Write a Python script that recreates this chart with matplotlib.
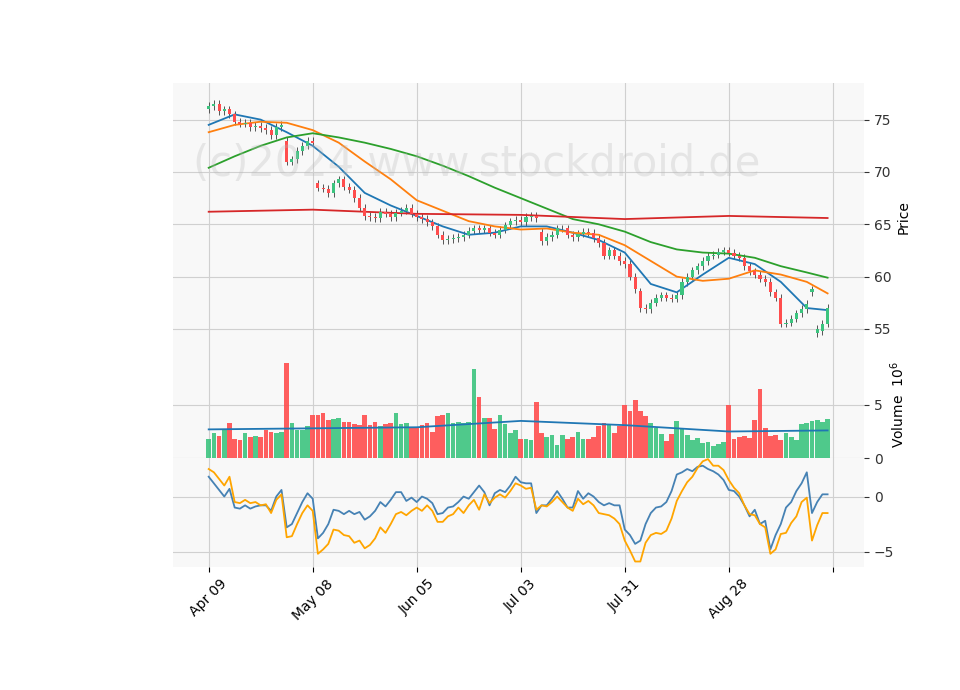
import matplotlib
matplotlib.use("Agg")
import matplotlib.pyplot as plt
import numpy as np

closes = [76.3,76.5,75.8,76.0,75.5,74.8,74.6,74.7,74.3,74.4,
          74.2,74.0,73.5,74.3,74.5,71.0,71.2,72.0,72.5,73.0,
          72.8,68.5,68.4,68.0,68.9,69.3,68.6,68.3,67.5,66.6,
          65.8,65.7,65.6,66.2,66.0,65.7,66.1,66.3,66.6,66.0,
          65.7,65.5,65.2,64.8,64.0,63.5,63.6,63.7,63.8,64.0,
          64.4,64.6,64.5,64.6,64.2,64.0,64.5,64.9,65.3,65.4,
          65.2,65.7,65.8,65.6,63.4,63.8,64.0,64.6,64.6,64.0,
          63.8,64.1,64.3,64.2,63.7,63.2,62.0,62.5,62.0,61.5,
          61.2,60.0,58.8,57.0,56.9,57.5,58.0,58.2,58.0,57.9,
          58.2,59.5,60.0,60.6,61.0,61.5,62.0,62.1,62.4,62.5,
          62.3,62.0,61.8,61.0,60.5,60.2,59.8,59.5,58.5,58.0,
          55.5,55.6,56.0,56.5,56.9,57.4,58.8,55.0,55.5,57.0]
opens = [76.0] + closes[:-1]
opens[15] = 73.0; opens[21] = 68.9; opens[64] = 64.3; opens[83] = 58.6
opens[110] = 58.0; opens[117] = 54.6; opens[118] = 54.8; opens[116] = 58.5

volume = [1.8,2.4,2.1,2.6,3.3,1.8,1.7,2.4,2.0,2.1,
          2.0,2.6,2.5,2.4,2.5,9.0,3.3,2.6,2.6,3.0,
          4.1,4.1,4.2,3.6,3.7,3.8,3.4,3.4,3.2,3.1,
          4.1,3.1,3.4,3.0,3.2,3.3,4.2,3.2,3.3,2.8,
          2.8,3.1,3.3,2.5,4.0,4.1,4.2,3.3,3.4,3.3,
          3.4,8.4,5.8,3.8,3.8,2.7,4.1,3.2,2.4,2.6,
          1.8,1.8,1.7,5.3,2.4,2.0,2.2,1.2,2.2,1.8,
          2.0,2.5,1.8,1.8,2.0,3.0,3.3,3.2,2.4,3.0,
          5.0,4.4,5.5,4.4,4.0,3.3,2.8,2.3,1.6,2.3,
          3.5,2.8,2.2,1.7,1.9,1.4,1.5,1.1,1.3,1.5,
          5.0,1.8,2.0,2.1,1.9,3.6,6.5,2.8,2.1,2.2,
          1.7,2.4,2.0,1.7,3.2,3.3,3.5,3.6,3.4,3.7]

ma_idx = list(range(0, 120, 5)) + [119]
ma_fast = [74.5,75.5,75.0,73.8,72.5,70.5,68.0,66.8,65.8,64.8,64.0,64.2,64.8,
           64.8,64.2,63.5,62.3,59.3,58.5,60.2,61.8,61.2,59.5,57.0,56.8]
ma_mid = [73.8,74.5,74.8,74.7,74.0,72.8,71.0,69.3,67.3,66.3,65.3,64.8,64.5,
          64.6,64.2,64.0,63.0,61.5,60.0,59.6,59.8,60.6,60.2,59.5,58.4]
ma_slow = [70.4,71.5,72.5,73.3,73.7,73.3,72.8,72.2,71.5,70.6,69.6,68.5,67.5,
           66.5,65.5,65.0,64.3,63.3,62.6,62.3,62.2,61.8,61.0,60.4,59.9]
ma_long_idx = [0,20,40,60,80,100,119]
ma_long = [66.2,66.4,66.0,65.9,65.5,65.8,65.6]
vol_ma_idx = [0,20,40,60,80,100,119]
vol_ma = [2.7,2.8,2.9,3.5,3.1,2.5,2.6]

macd = [1.8,1.2,0.6,0.0,0.7,-1.0,-1.1,-0.8,-1.1,-0.9,
        -0.8,-0.8,-1.3,0.0,0.6,-2.8,-2.5,-1.5,-0.5,0.3,
        -0.2,-3.8,-3.3,-2.5,-1.2,-1.3,-1.6,-1.3,-1.6,-1.4,
        -2.1,-1.8,-1.3,-0.5,-0.9,-0.3,0.4,0.4,-0.4,-0.1,
        -0.5,0.0,-0.2,-0.6,-1.6,-1.5,-1.0,-0.9,-0.5,0.0,
        -0.2,0.4,1.0,0.4,-0.8,0.3,0.6,0.4,1.0,1.8,
        1.3,1.2,1.2,-1.5,-0.8,-0.8,-0.2,0.5,-0.2,-1.0,
        -1.0,0.5,-0.2,0.3,0.0,-0.5,-0.8,-0.6,-0.8,-0.8,
        -3.0,-3.5,-4.3,-4.0,-2.5,-1.5,-1.0,-0.9,-0.5,0.5,
        2.0,2.2,2.5,2.3,2.7,2.8,2.5,2.3,2.0,1.5,
        0.6,0.5,0.0,-0.8,-1.8,-1.2,-2.5,-2.2,-4.8,-3.5,
        -2.5,-1.0,-0.5,0.5,1.2,2.2,-1.5,-0.5,0.2,0.2]
signal = [2.5,2.2,1.6,1.0,1.8,-0.5,-0.6,-0.3,-0.6,-0.5,
          -0.8,-0.7,-1.5,-0.3,0.2,-3.7,-3.6,-2.5,-1.5,-0.8,
          -1.3,-5.2,-4.8,-4.3,-3.0,-3.1,-3.5,-3.6,-4.2,-4.0,
          -4.7,-4.4,-3.8,-2.8,-3.3,-2.5,-1.6,-1.4,-1.7,-1.3,
          -1.0,-1.3,-0.8,-1.3,-2.3,-2.3,-1.8,-1.6,-1.0,-1.5,
          -0.8,-0.3,-1.2,0.2,-0.6,-0.1,0.2,-0.1,0.5,1.2,
          1.0,0.7,0.8,-1.2,-0.8,-0.9,-0.5,0.0,-0.5,-1.0,
          -1.3,-0.2,-0.7,-0.4,-0.8,-1.5,-1.6,-1.7,-2.0,-2.5,
          -4.0,-4.9,-5.9,-5.9,-4.2,-3.5,-3.3,-3.4,-3.1,-2.0,
          -0.4,0.5,1.3,1.8,2.6,3.2,3.4,2.8,2.8,2.4,
          1.5,0.8,0.3,-0.8,-1.6,-1.7,-2.5,-2.8,-5.2,-4.8,
          -3.4,-3.3,-2.4,-1.8,-0.5,-0.1,-4.0,-2.6,-1.5,-1.5]

tick_pos = [0,20,40,60,80,100,120]
tick_labels = ["Apr 09","May 08","Jun 05","Jul 03","Jul 31","Aug 28",""]

UP, DN = "#3cc47f", "#ff4d4d"
BG = "#f8f8f8"

fig = plt.figure(figsize=(9.6,6.9), dpi=100)
L, W = 0.18, 0.72
ax1 = fig.add_axes([L, 1-352/690, W, (352-83)/690])
ax2 = fig.add_axes([L, 1-458/690, W, (458-352)/690], sharex=ax1)
ax3 = fig.add_axes([L, 1-567/690, W, (567-458)/690], sharex=ax1)

for ax in (ax1, ax2, ax3):
    ax.set_facecolor(BG)
    ax.grid(True, color="#d0d0d0", lw=0.8)
    ax.set_axisbelow(True)
    for s in ax.spines.values():
        s.set_visible(False)
    ax.yaxis.tick_right()
    ax.yaxis.set_label_position("right")
    ax.tick_params(axis="y", colors="#333333", labelsize=10)

x = np.arange(len(closes))
cols = [UP if c >= o else DN for o, c in zip(opens, closes)]
for i, (o, c) in enumerate(zip(opens, closes)):
    hi, lo = max(o, c) + 0.35, min(o, c) - 0.35
    ax1.vlines(i, lo, hi, color="#555555", lw=0.7, zorder=2)
    h = abs(c - o) if abs(c - o) > 0.08 else 0.08
    ax1.bar(i, h, bottom=min(o, c), width=0.6, color=cols[i], zorder=3)
ax1.plot(ma_idx, ma_fast, color="#1f77b4", lw=1.3)
ax1.plot(ma_idx, ma_mid, color="#ff7f0e", lw=1.3)
ax1.plot(ma_idx, ma_slow, color="#2ca02c", lw=1.3)
ax1.plot(ma_long_idx, ma_long, color="#d62728", lw=1.3)
ax1.set_ylim(52.8, 78.5)
ax1.set_yticks([55,60,65,70,75])
ax1.set_ylabel("Price")
ax1.text(0.44, 0.7, "(c)2024 www.stockdroid.de", transform=ax1.transAxes,
         ha="center", va="center", fontsize=30, color="#bbbbbb", alpha=0.3)
plt.setp(ax1.get_xticklabels(), visible=False)
ax1.tick_params(axis="x", length=0)

ax2.bar(x, volume, width=0.9, color=cols, alpha=0.9)
ax2.plot(vol_ma_idx, vol_ma, color="#1f77b4", lw=1.3)
ax2.set_ylim(0, 10)
ax2.set_yticks([0,5])
ax2.set_ylabel("Volume  $10^6$")
plt.setp(ax2.get_xticklabels(), visible=False)
ax2.tick_params(axis="x", length=0)

ax3.plot(np.arange(len(macd)), macd, color="#4682b4", lw=1.3)
ax3.plot(np.arange(len(signal)), signal, color="#ffa500", lw=1.3)
ax3.set_ylim(-6.4, 3.5)
ax3.set_yticks([-5, 0])
ax3.set_xlim(-6.9, 126)
ax3.set_xticks(tick_pos)
ax3.set_xticklabels(tick_labels, rotation=45, fontsize=10)

fig.savefig("out.png", dpi=100)
